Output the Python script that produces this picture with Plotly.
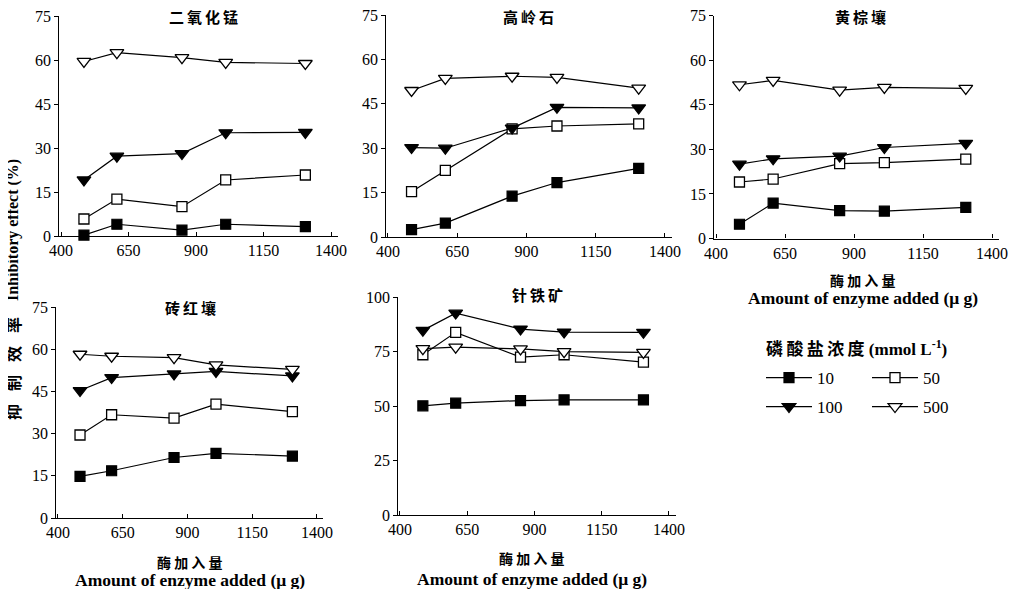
import plotly.graph_objects as go

# ---------------- data ----------------
x_enzyme = [485, 607, 848, 1010, 1305]
conc_labels = ["10", "50", "100", "500"]
panel_titles = ["二氧化锰", "高岭石", "黄棕壤", "砖红壤", "针铁矿"]
x_ticks = [400, 650, 900, 1150, 1400]
y_ticks_75 = [0, 15, 30, 45, 60, 75]
y_ticks_100 = [0, 25, 50, 75, 100]

mno2_10 = [0.3, 4.0, 2.0, 4.0, 3.2]
mno2_50 = [5.8, 12.6, 10.0, 19.1, 20.8]
mno2_100 = [19.1, 27.2, 28.1, 35.2, 35.3]
mno2_500 = [59.5, 62.5, 60.8, 59.2, 58.8]

kaol_10 = [2.5, 4.7, 13.8, 18.4, 23.2]
kaol_50 = [15.3, 22.5, 36.5, 37.5, 38.2]
kaol_100 = [30.2, 30.0, 36.8, 43.8, 43.6]
kaol_500 = [49.5, 53.6, 54.3, 53.9, 50.3]

ybs_10 = [4.8, 11.9, 9.4, 9.2, 10.5]
ybs_50 = [19.0, 20.0, 25.2, 25.5, 26.7]
ybs_100 = [25.0, 26.8, 27.7, 30.6, 32.0]
ybs_500 = [51.7, 53.2, 49.9, 50.8, 50.5]

lat_10 = [14.8, 16.8, 21.5, 23.0, 22.0]
lat_50 = [29.5, 36.7, 35.5, 40.5, 37.8]
lat_100 = [45.3, 49.9, 51.2, 52.1, 50.5]
lat_500 = [58.2, 57.5, 57.0, 54.4, 52.8]

goe_10 = [50.1, 51.3, 52.5, 52.8, 52.8]
goe_50 = [73.5, 83.8, 72.4, 73.5, 70.1]
goe_100 = [84.7, 92.6, 85.3, 83.9, 83.8]
goe_500 = [76.3, 77.0, 76.2, 74.9, 74.6]

panel_series = [
    [mno2_10, mno2_50, mno2_100, mno2_500],
    [kaol_10, kaol_50, kaol_100, kaol_500],
    [ybs_10, ybs_50, ybs_100, ybs_500],
    [lat_10, lat_50, lat_100, lat_500],
    [goe_10, goe_50, goe_100, goe_500],
]

# ---------------- layout constants ----------------
# the page body has an 8px default margin; the figure is sized to fit the window
OFF = 8
W, H = 1023 - OFF, 589 - OFF


def fx(px):
    return (px - OFF) / W


def fy(py):
    return 1 - (py - OFF) / H


# window-pixel positions: (x of 400, x of 1400, y of 0, y of top value, top value)
panel_px = [
    (61, 331, 236, 16, 75),
    (388, 665, 237, 15, 75),
    (716, 992, 238.5, 15.5, 75),
    (58, 317, 518, 307, 75),
    (400, 669, 515, 297, 100),
]
XR = (394, 1425)

serif = "Liberation Serif, Times New Roman, serif"
cjk = "Noto Sans CJK SC"

styles = [
    dict(symbol="square", size=10, color="black", line=dict(color="black", width=1.2)),
    dict(symbol="square", size=10, color="white", line=dict(color="black", width=1.3)),
    dict(symbol="triangle-down", size=12, color="black", line=dict(color="black", width=1.2)),
    dict(symbol="triangle-down", size=12, color="white", line=dict(color="black", width=1.3)),
]

fig = go.Figure()
layout = dict(
    width=W, height=H, margin=dict(l=0, r=0, t=0, b=0, autoexpand=False),
    paper_bgcolor="white", plot_bgcolor="white", showlegend=True,
)
annotations = []

for i, (p400, p1400, py0, pytop, ytop) in enumerate(panel_px):
    sc = (p1400 - p400) / 1000.0
    left = p400 + (XR[0] - 400) * sc
    right = p400 + (XR[1] - 400) * sc
    xn = "xaxis" if i == 0 else f"xaxis{i+1}"
    yn = "yaxis" if i == 0 else f"yaxis{i+1}"
    xref = "x" if i == 0 else f"x{i+1}"
    yref = "y" if i == 0 else f"y{i+1}"
    layout[xn] = dict(
        domain=[fx(left), fx(right)], range=list(XR), anchor=yref, automargin=False,
        tickvals=x_ticks, ticks="inside", ticklen=4, tickwidth=1.2, tickcolor="black",
        showline=True, linecolor="black", linewidth=1.3, showgrid=False, zeroline=False,
        ticklabeloverflow="allow",
        tickfont=dict(family=serif, size=16, color="black"),
    )
    layout[yn] = dict(
        domain=[fy(py0), fy(pytop)], range=[0, ytop], anchor=xref, automargin=False,
        tickvals=y_ticks_100 if ytop == 100 else y_ticks_75,
        ticks="outside", ticklen=4, tickwidth=1.2, tickcolor="black",
        showline=True, linecolor="black", linewidth=1.3, showgrid=False, zeroline=False,
        ticklabeloverflow="allow",
        tickfont=dict(family=serif, size=16, color="black"),
    )
    for j, vals in enumerate(panel_series[i]):
        fig.add_trace(go.Scatter(
            x=x_enzyme, y=vals, mode="lines+markers", xaxis=xref, yaxis=yref,
            line=dict(color="black", width=1.2), marker=styles[j],
            name=conc_labels[j], cliponaxis=False,
            showlegend=(i == 0), legend="legend" if j < 2 else "legend2",
        ))

# panel titles
title_pos = [(203, 17), (528, 17), (860, 17), (190, 307), (537, 294)]
for t, (tx, ty) in zip(panel_titles, title_pos):
    annotations.append(dict(
        text="\u2009".join(t), x=fx(tx), y=fy(ty), xref="paper", yref="paper",
        showarrow=False, xanchor="center", yanchor="middle",
        font=dict(family=cjk, size=15, color="black", weight="bold"),
    ))

# x-axis titles
for cx, y1, y2 in [(863, 280, 298), (190, 562, 580), (532, 558, 579)]:
    annotations.append(dict(
        text="酶 加 入 量", x=fx(cx), y=fy(y1), xref="paper", yref="paper",
        showarrow=False, xanchor="center", yanchor="middle",
        font=dict(family=cjk, size=14, color="black", weight="bold"),
    ))
    annotations.append(dict(
        text="Amount of enzyme added (μ g)", x=fx(cx), y=fy(y2),
        xref="paper", yref="paper", showarrow=False, xanchor="center", yanchor="middle",
        font=dict(family=serif, size=17.5, color="black", weight="bold"),
    ))

# y-axis title (Chinese part + English part, one line reading bottom to top)
gap = "\u2002\u2005\u200a"
annotations.append(dict(
    text=gap.join("抑制效率"), x=fx(13), y=fy(369),
    xref="paper", yref="paper", showarrow=False, textangle=-90,
    xanchor="center", yanchor="middle",
    font=dict(family=cjk, size=16, color="black", weight="bold"),
))
annotations.append(dict(
    text="Inhibitory effect (%)", x=fx(13), y=fy(230),
    xref="paper", yref="paper", showarrow=False, textangle=-90,
    xanchor="center", yanchor="middle",
    font=dict(family=serif, size=16, color="black", weight="bold"),
))

# legend title
annotations.append(dict(
    text="磷\u2009酸\u2009盐\u2009浓\u2009度 (mmol L<sup>-1</sup>)", x=fx(764), y=fy(348),
    xref="paper", yref="paper", showarrow=False, xanchor="left", yanchor="middle",
    font=dict(family=f"{serif}, {cjk}", size=17, color="black", weight="bold"),
))

leg_common = dict(
    orientation="h", xanchor="left", yanchor="middle", entrywidth=45, itemwidth=46,
    bgcolor="rgba(0,0,0,0)", borderwidth=0,
    font=dict(family=serif, size=17, color="black"),
)
layout["legend"] = dict(leg_common, x=fx(761), y=fy(378))
layout["legend2"] = dict(leg_common, x=fx(761), y=fy(407))
layout["annotations"] = annotations

fig.update_layout(**layout)
fig.write_html("out.html")
